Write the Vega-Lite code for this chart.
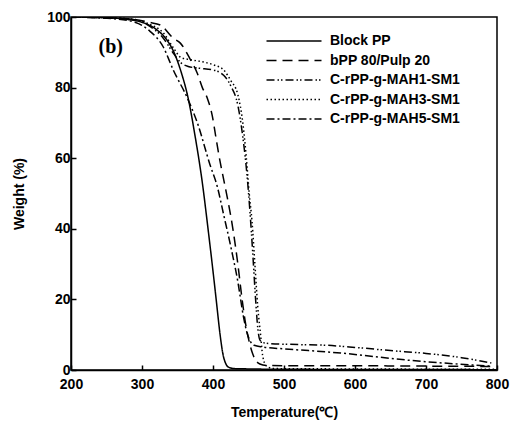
{
  "$schema": "https://vega.github.io/schema/vega-lite/v6.json",
  "width": 426,
  "height": 353,
  "autosize": "none",
  "padding": {"left": 71, "top": 17, "right": 18, "bottom": 61},
  "background": "white",
  "config": {
    "view": {"stroke": "black", "strokeWidth": 1.5},
    "font": "Liberation Sans"
  },
  "datasets": {
    "tga": [
      {"s": "Block PP", "t": 200, "w": 100},
      {"s": "Block PP", "t": 250, "w": 99.8},
      {"s": "Block PP", "t": 280, "w": 99.3},
      {"s": "Block PP", "t": 300, "w": 98.5},
      {"s": "Block PP", "t": 320, "w": 96.5},
      {"s": "Block PP", "t": 335, "w": 93.5},
      {"s": "Block PP", "t": 345, "w": 90},
      {"s": "Block PP", "t": 355, "w": 84.5},
      {"s": "Block PP", "t": 365, "w": 77},
      {"s": "Block PP", "t": 375, "w": 66},
      {"s": "Block PP", "t": 385, "w": 53},
      {"s": "Block PP", "t": 393, "w": 40},
      {"s": "Block PP", "t": 400, "w": 28},
      {"s": "Block PP", "t": 405, "w": 19},
      {"s": "Block PP", "t": 410, "w": 10},
      {"s": "Block PP", "t": 414, "w": 4.5},
      {"s": "Block PP", "t": 418, "w": 1.8},
      {"s": "Block PP", "t": 422, "w": 0.8},
      {"s": "Block PP", "t": 430, "w": 0.4},
      {"s": "Block PP", "t": 500, "w": 0.2},
      {"s": "Block PP", "t": 800, "w": 0.1},

      {"s": "bPP 80/Pulp 20", "t": 200, "w": 100},
      {"s": "bPP 80/Pulp 20", "t": 280, "w": 99.5},
      {"s": "bPP 80/Pulp 20", "t": 310, "w": 98.5},
      {"s": "bPP 80/Pulp 20", "t": 326, "w": 97.7},
      {"s": "bPP 80/Pulp 20", "t": 344, "w": 94},
      {"s": "bPP 80/Pulp 20", "t": 354, "w": 92.6},
      {"s": "bPP 80/Pulp 20", "t": 368, "w": 88},
      {"s": "bPP 80/Pulp 20", "t": 378, "w": 84},
      {"s": "bPP 80/Pulp 20", "t": 385, "w": 80},
      {"s": "bPP 80/Pulp 20", "t": 392, "w": 77},
      {"s": "bPP 80/Pulp 20", "t": 399, "w": 72},
      {"s": "bPP 80/Pulp 20", "t": 404, "w": 66},
      {"s": "bPP 80/Pulp 20", "t": 410, "w": 59},
      {"s": "bPP 80/Pulp 20", "t": 415, "w": 54},
      {"s": "bPP 80/Pulp 20", "t": 420, "w": 49},
      {"s": "bPP 80/Pulp 20", "t": 428, "w": 40},
      {"s": "bPP 80/Pulp 20", "t": 435, "w": 30},
      {"s": "bPP 80/Pulp 20", "t": 441, "w": 20},
      {"s": "bPP 80/Pulp 20", "t": 446, "w": 13},
      {"s": "bPP 80/Pulp 20", "t": 451, "w": 8},
      {"s": "bPP 80/Pulp 20", "t": 456, "w": 4.5},
      {"s": "bPP 80/Pulp 20", "t": 461, "w": 2.5},
      {"s": "bPP 80/Pulp 20", "t": 466, "w": 1.7},
      {"s": "bPP 80/Pulp 20", "t": 475, "w": 1.3},
      {"s": "bPP 80/Pulp 20", "t": 500, "w": 1.2},
      {"s": "bPP 80/Pulp 20", "t": 600, "w": 1.2},
      {"s": "bPP 80/Pulp 20", "t": 700, "w": 1.1},
      {"s": "bPP 80/Pulp 20", "t": 795, "w": 1.0},

      {"s": "C-rPP-g-MAH1-SM1", "t": 200, "w": 100},
      {"s": "C-rPP-g-MAH1-SM1", "t": 280, "w": 99.5},
      {"s": "C-rPP-g-MAH1-SM1", "t": 310, "w": 97.5},
      {"s": "C-rPP-g-MAH1-SM1", "t": 330, "w": 94},
      {"s": "C-rPP-g-MAH1-SM1", "t": 345, "w": 89.5},
      {"s": "C-rPP-g-MAH1-SM1", "t": 355, "w": 87},
      {"s": "C-rPP-g-MAH1-SM1", "t": 365, "w": 86},
      {"s": "C-rPP-g-MAH1-SM1", "t": 380, "w": 85.5},
      {"s": "C-rPP-g-MAH1-SM1", "t": 400, "w": 85},
      {"s": "C-rPP-g-MAH1-SM1", "t": 415, "w": 83.5},
      {"s": "C-rPP-g-MAH1-SM1", "t": 425, "w": 80.5},
      {"s": "C-rPP-g-MAH1-SM1", "t": 435, "w": 75},
      {"s": "C-rPP-g-MAH1-SM1", "t": 442, "w": 66},
      {"s": "C-rPP-g-MAH1-SM1", "t": 448, "w": 55},
      {"s": "C-rPP-g-MAH1-SM1", "t": 452, "w": 45},
      {"s": "C-rPP-g-MAH1-SM1", "t": 456, "w": 33},
      {"s": "C-rPP-g-MAH1-SM1", "t": 460, "w": 20},
      {"s": "C-rPP-g-MAH1-SM1", "t": 463, "w": 12},
      {"s": "C-rPP-g-MAH1-SM1", "t": 466, "w": 8.5},
      {"s": "C-rPP-g-MAH1-SM1", "t": 470, "w": 7.8},
      {"s": "C-rPP-g-MAH1-SM1", "t": 480, "w": 7.5},
      {"s": "C-rPP-g-MAH1-SM1", "t": 520, "w": 7.2},
      {"s": "C-rPP-g-MAH1-SM1", "t": 560, "w": 7},
      {"s": "C-rPP-g-MAH1-SM1", "t": 600, "w": 6.4},
      {"s": "C-rPP-g-MAH1-SM1", "t": 650, "w": 5.5},
      {"s": "C-rPP-g-MAH1-SM1", "t": 700, "w": 4.7},
      {"s": "C-rPP-g-MAH1-SM1", "t": 750, "w": 3.5},
      {"s": "C-rPP-g-MAH1-SM1", "t": 792, "w": 2},

      {"s": "C-rPP-g-MAH3-SM1", "t": 200, "w": 100},
      {"s": "C-rPP-g-MAH3-SM1", "t": 280, "w": 99.5},
      {"s": "C-rPP-g-MAH3-SM1", "t": 310, "w": 98},
      {"s": "C-rPP-g-MAH3-SM1", "t": 330, "w": 95.5},
      {"s": "C-rPP-g-MAH3-SM1", "t": 345, "w": 91},
      {"s": "C-rPP-g-MAH3-SM1", "t": 355, "w": 88.5},
      {"s": "C-rPP-g-MAH3-SM1", "t": 365, "w": 88},
      {"s": "C-rPP-g-MAH3-SM1", "t": 380, "w": 87.5},
      {"s": "C-rPP-g-MAH3-SM1", "t": 400, "w": 86.5},
      {"s": "C-rPP-g-MAH3-SM1", "t": 415, "w": 85},
      {"s": "C-rPP-g-MAH3-SM1", "t": 425, "w": 82},
      {"s": "C-rPP-g-MAH3-SM1", "t": 435, "w": 78},
      {"s": "C-rPP-g-MAH3-SM1", "t": 442, "w": 70},
      {"s": "C-rPP-g-MAH3-SM1", "t": 447, "w": 60},
      {"s": "C-rPP-g-MAH3-SM1", "t": 451, "w": 50},
      {"s": "C-rPP-g-MAH3-SM1", "t": 455, "w": 42},
      {"s": "C-rPP-g-MAH3-SM1", "t": 459, "w": 30},
      {"s": "C-rPP-g-MAH3-SM1", "t": 463, "w": 18},
      {"s": "C-rPP-g-MAH3-SM1", "t": 467, "w": 10},
      {"s": "C-rPP-g-MAH3-SM1", "t": 470, "w": 4},
      {"s": "C-rPP-g-MAH3-SM1", "t": 475, "w": 1.2},
      {"s": "C-rPP-g-MAH3-SM1", "t": 485, "w": 0.4},
      {"s": "C-rPP-g-MAH3-SM1", "t": 800, "w": 0.2},

      {"s": "C-rPP-g-MAH5-SM1", "t": 200, "w": 100},
      {"s": "C-rPP-g-MAH5-SM1", "t": 260, "w": 99.5},
      {"s": "C-rPP-g-MAH5-SM1", "t": 290, "w": 98.5},
      {"s": "C-rPP-g-MAH5-SM1", "t": 311, "w": 96},
      {"s": "C-rPP-g-MAH5-SM1", "t": 330, "w": 91.5},
      {"s": "C-rPP-g-MAH5-SM1", "t": 344, "w": 85},
      {"s": "C-rPP-g-MAH5-SM1", "t": 364, "w": 77},
      {"s": "C-rPP-g-MAH5-SM1", "t": 378, "w": 70},
      {"s": "C-rPP-g-MAH5-SM1", "t": 396, "w": 58},
      {"s": "C-rPP-g-MAH5-SM1", "t": 406, "w": 52},
      {"s": "C-rPP-g-MAH5-SM1", "t": 415, "w": 44},
      {"s": "C-rPP-g-MAH5-SM1", "t": 425, "w": 35},
      {"s": "C-rPP-g-MAH5-SM1", "t": 435, "w": 25},
      {"s": "C-rPP-g-MAH5-SM1", "t": 443, "w": 15},
      {"s": "C-rPP-g-MAH5-SM1", "t": 448, "w": 10.5},
      {"s": "C-rPP-g-MAH5-SM1", "t": 453, "w": 8},
      {"s": "C-rPP-g-MAH5-SM1", "t": 458, "w": 7},
      {"s": "C-rPP-g-MAH5-SM1", "t": 470, "w": 6.5},
      {"s": "C-rPP-g-MAH5-SM1", "t": 500, "w": 6},
      {"s": "C-rPP-g-MAH5-SM1", "t": 580, "w": 4.8},
      {"s": "C-rPP-g-MAH5-SM1", "t": 674, "w": 2.8},
      {"s": "C-rPP-g-MAH5-SM1", "t": 790, "w": 1.1}
    ]
  },
  "layer": [
    {
      "data": {"name": "tga"},
      "mark": {"type": "line", "color": "black", "strokeWidth": 1.5, "interpolate": "monotone", "clip": true},
      "encoding": {
        "x": {
          "field": "t", "type": "quantitative",
          "scale": {"domain": [200, 800], "nice": false},
          "axis": {
            "title": "Temperature(℃)", "values": [200, 300, 400, 500, 600, 700, 800],
            "grid": false, "tickSize": -5, "domain": true, "domainColor": "black", "tickColor": "black",
            "domainWidth": 1.5, "tickWidth": 1.5,
            "labelFont": "Liberation Sans", "labelFontWeight": "bold", "labelFontSize": 14, "labelColor": "black",
            "labelPadding": 12, "labelFlush": false,
            "titleFont": "Liberation Sans", "titleFontWeight": "bold", "titleFontSize": 14, "titleColor": "black",
            "titlePadding": 14
          }
        },
        "y": {
          "field": "w", "type": "quantitative",
          "scale": {"domain": [0, 100], "nice": false},
          "axis": {
            "title": "Weight (%)", "values": [0, 20, 40, 60, 80, 100],
            "grid": false, "tickSize": -5, "domainColor": "black", "tickColor": "black",
            "domainWidth": 1.5, "tickWidth": 1.5,
            "labelFont": "Liberation Sans", "labelFontWeight": "bold", "labelFontSize": 14, "labelColor": "black",
            "labelPadding": 6, "labelFlush": false,
            "titleFont": "Liberation Sans", "titleFontWeight": "bold", "titleFontSize": 14, "titleColor": "black",
            "titlePadding": 20
          }
        },
        "detail": {"field": "s"},
        "strokeDash": {
          "field": "s", "type": "nominal",
          "scale": {
            "domain": ["Block PP", "bPP 80/Pulp 20", "C-rPP-g-MAH1-SM1", "C-rPP-g-MAH3-SM1", "C-rPP-g-MAH5-SM1"],
            "range": [[1, 0], [10, 6], [8, 3, 1.5, 2, 1.5, 3], [1.5, 2.5], [8, 3, 2, 3]]
          },
          "legend": {
            "title": null, "orient": "none", "legendX": 216, "legendY": 17,
            "symbolType": "M-5,0H5", "symbolSize": 121, "symbolStrokeColor": "black", "symbolStrokeWidth": 1.5,
            "symbolFillColor": "transparent",
            "labelFont": "Liberation Sans", "labelFontWeight": "bold", "labelFontSize": 14, "labelColor": "black",
            "labelOffset": 29, "rowPadding": 5.5
          }
        }
      }
    },
    {
      "data": {"values": [{"label": "(b)"}]},
      "mark": {"type": "text", "font": "Liberation Serif", "fontWeight": "bold", "fontSize": 20, "color": "black"},
      "encoding": {
        "text": {"field": "label"},
        "x": {"datum": 256, "type": "quantitative"},
        "y": {"datum": 91.5, "type": "quantitative"}
      }
    }
  ]
}
